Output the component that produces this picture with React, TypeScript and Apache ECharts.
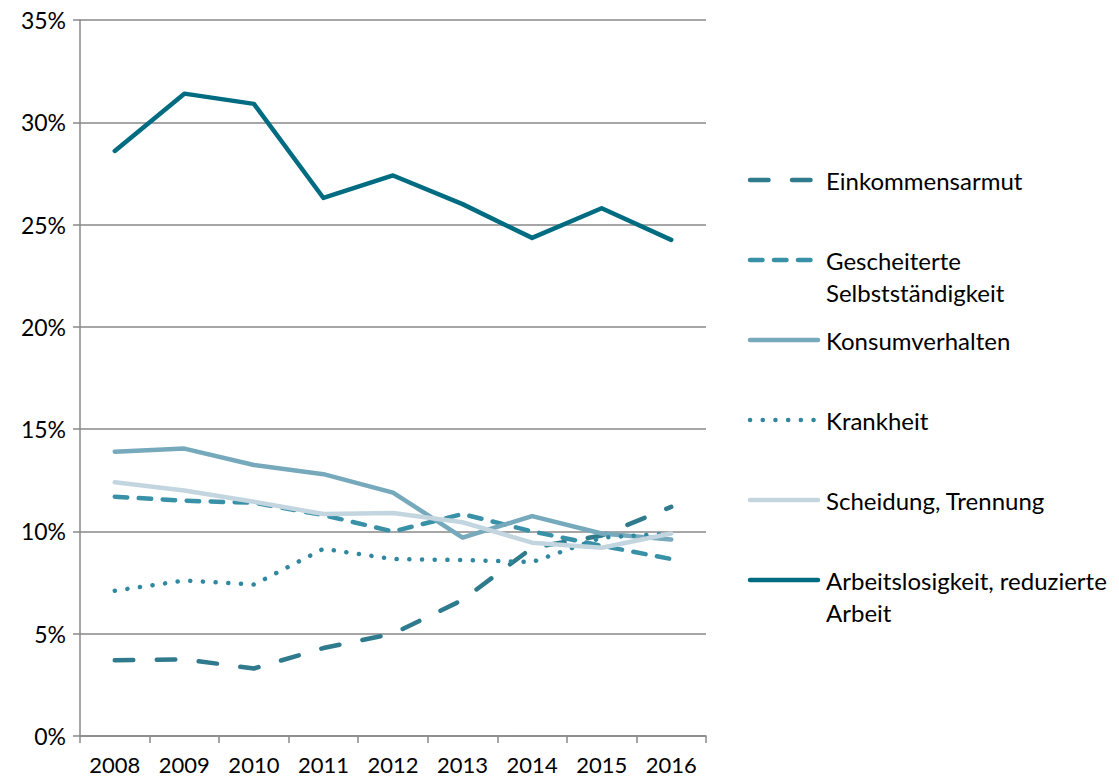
import React, { useEffect, useRef } from "react";
import * as echarts from "echarts";

const years = ["2008", "2009", "2010", "2011", "2012", "2013", "2014", "2015", "2016"];
const yTicks = [0, 5, 10, 15, 20, 25, 30, 35];

const einkommensarmut = [3.7, 3.75, 3.3, 4.3, 5.0, 6.65, 9.2, 9.8, 11.2];
const gescheiterte = [11.7, 11.5, 11.4, 10.8, 10.0, 10.85, 10.0, 9.3, 8.65];
const konsumverhalten = [13.9, 14.05, 13.25, 12.8, 11.9, 9.7, 10.75, 9.9, 9.6];
const krankheit = [7.1, 7.6, 7.4, 9.15, 8.65, 8.6, 8.5, 9.7, 9.9];
const scheidung = [12.4, 12.0, 11.45, 10.85, 10.9, 10.45, 9.45, 9.2, 9.9];
const arbeitslosigkeit = [28.6, 31.4, 30.9, 26.3, 27.4, 26.0, 24.35, 25.8, 24.25];

const seriesNames = [
  "Einkommensarmut",
  "Gescheiterte Selbstständigkeit",
  "Konsumverhalten",
  "Krankheit",
  "Scheidung, Trennung",
  "Arbeitslosigkeit, reduzierte Arbeit",
];
const legendLabels = [
  ["Einkommensarmut"],
  ["Gescheiterte", "Selbstständigkeit"],
  ["Konsumverhalten"],
  ["Krankheit"],
  ["Scheidung, Trennung"],
  ["Arbeitslosigkeit, reduzierte", "Arbeit"],
];
const seriesData = [einkommensarmut, gescheiterte, konsumverhalten, krankheit, scheidung, arbeitslosigkeit];
const colors = ["#2f7b8d", "#3891a7", "#76a9bb", "#2f88a0", "#c3d6e0", "#006c81"];
const dashes: (number[] | null)[] = [[18.5, 23.5], [12.5, 11.5], null, [0.1, 12.6], null, null];

const FONT = "Lato";

export default function App() {
  const ref = useRef<HTMLDivElement>(null);
  useEffect(() => {
    if (!ref.current) return;
    const chart = echarts.init(ref.current, null, { renderer: "svg" });
    const legendX = 748;
    const legendY0 = 180;
    const legendStep = 80;
    const legendGraphics: any[] = [];
    seriesNames.forEach((name, i) => {
      const y = legendY0 + i * legendStep;
      legendGraphics.push({
        type: "line",
        shape: { x1: legendX + 2, y1: y, x2: legendX + 70, y2: y },
        style: {
          stroke: colors[i],
          lineWidth: 4.5,
          lineCap: "round",
          lineDash: dashes[i] || undefined,
        },
      });
      legendLabels[i].forEach((t, k) => {
        legendGraphics.push({
          type: "text",
          x: 826,
          y: y + k * 32,
          style: {
            text: t,
            font: `24px ${FONT}`,
            fill: "#000",
            textVerticalAlign: "middle",
            verticalAlign: "middle",
          },
        });
      });
    });

    chart.setOption({
      animation: false,
      grid: { left: 80, right: 413, top: 20, bottom: 44, containLabel: false },
      xAxis: {
        type: "category",
        data: years,
        boundaryGap: true,
        axisLine: { lineStyle: { color: "#888", width: 1.5 } },
        axisTick: { show: true, length: 7, lineStyle: { color: "#888", width: 1.5 } },
        axisLabel: { color: "#000", fontFamily: FONT, fontSize: 22, margin: 16, lineHeight: 24 },
      },
      yAxis: {
        type: "value",
        min: yTicks[0],
        max: yTicks[yTicks.length - 1],
        interval: 5,
        axisLine: { show: true, lineStyle: { color: "#888", width: 1.5 } },
        axisTick: { show: true, length: 7, lineStyle: { color: "#888", width: 1.5 } },
        splitLine: { lineStyle: { color: "#888", width: 1.5 } },
        axisLabel: { color: "#000", fontFamily: FONT, fontSize: 23, margin: 14, formatter: "{value}%" },
      },
      series: seriesNames.map((name, i) => ({
        name,
        type: "line",
        data: seriesData[i],
        symbol: "none",
        lineStyle: {
          color: colors[i],
          width: 4.5,
          type: dashes[i] || "solid",
          cap: "round",
          join: "round",
        },
        itemStyle: { color: colors[i] },
      })),
      graphic: legendGraphics,
    });
    return () => chart.dispose();
  }, []);
  return <div ref={ref} style={{ width: 1119, height: 780, position: "absolute", left: 0, top: 0 }} />;
}
